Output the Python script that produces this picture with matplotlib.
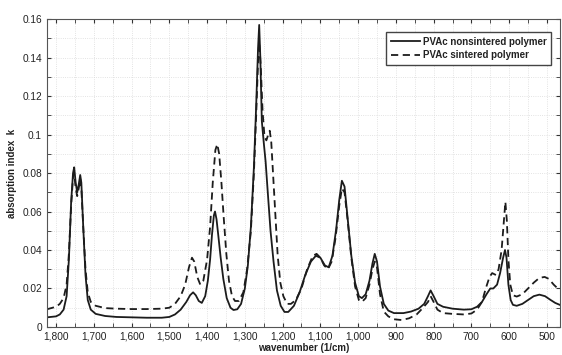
import matplotlib
matplotlib.use("Agg")
import matplotlib.pyplot as plt
from matplotlib.ticker import MultipleLocator, FuncFormatter

plt.rcParams['font.family'] = ['Liberation Sans', 'DejaVu Sans']

# nonsintered (solid) polymer
wn_solid = [1824, 1800, 1790, 1780, 1772, 1766, 1760, 1755, 1752, 1748, 1744, 1740, 1736, 1733, 1728,
            1722, 1716, 1708, 1695, 1670, 1640, 1600, 1560, 1520, 1500, 1485, 1470, 1455, 1445, 1437,
            1430, 1422, 1414, 1405, 1398, 1392, 1387, 1382, 1379, 1375, 1370, 1364, 1357, 1348, 1338, 1330,
            1320, 1310, 1300, 1292, 1284, 1276, 1270, 1265, 1262, 1259, 1255, 1250, 1245, 1240, 1232, 1224,
            1215, 1205, 1195, 1185, 1170, 1155, 1140, 1125, 1112, 1100, 1088, 1078, 1068, 1058, 1050,
            1043, 1036, 1028, 1018, 1008, 998, 990, 980, 970, 962, 956, 950, 942, 932, 920,
            905, 880, 860, 840, 825, 815, 808, 800, 790, 775, 750, 720, 700, 685, 672,
            660, 650, 642, 632, 624, 616, 611, 607, 602, 596, 590, 580, 565, 550, 535,
            520, 505, 490, 478, 466]
k_solid = [0.0050, 0.0055, 0.0065, 0.0090, 0.016, 0.035, 0.065, 0.080, 0.083, 0.075, 0.070, 0.074, 0.079, 0.075, 0.052,
           0.027, 0.014, 0.009, 0.0068, 0.0057, 0.0052, 0.0050, 0.0048, 0.0048, 0.0052, 0.0065, 0.0090, 0.013, 0.0165, 0.0180,
           0.0165, 0.0135, 0.0125, 0.016, 0.024, 0.035, 0.048, 0.058, 0.060, 0.056, 0.047, 0.036, 0.025, 0.015, 0.0100, 0.0088,
           0.0092, 0.012, 0.020, 0.032, 0.052, 0.083, 0.115, 0.145, 0.157, 0.140, 0.107, 0.096, 0.086, 0.072, 0.050, 0.034,
           0.019, 0.011, 0.0078, 0.0078, 0.011, 0.018, 0.027, 0.034, 0.037, 0.036, 0.032, 0.031, 0.037, 0.051, 0.066,
           0.076, 0.073, 0.057, 0.037, 0.023, 0.016, 0.015, 0.017, 0.024, 0.033, 0.038, 0.034, 0.021, 0.012, 0.0085,
           0.0072, 0.0072, 0.0080, 0.0095, 0.012, 0.016, 0.019, 0.016, 0.012, 0.0105, 0.0095, 0.0090, 0.0092, 0.0105, 0.013,
           0.017, 0.020, 0.020, 0.022, 0.028, 0.036, 0.040, 0.036, 0.022, 0.014, 0.0115, 0.011, 0.012, 0.014, 0.016,
           0.0168, 0.0160, 0.0140, 0.0125, 0.0115]

# sintered (dashed) polymer
wn_dash = [1824, 1800, 1790, 1780, 1772, 1766, 1760, 1755, 1752, 1748, 1744, 1740, 1736, 1733, 1728,
           1722, 1716, 1708, 1695, 1670, 1640, 1600, 1560, 1520, 1500, 1485, 1470, 1458, 1448, 1440,
           1434, 1426, 1418, 1410, 1400, 1392, 1385, 1378, 1373, 1368, 1362, 1356, 1349, 1342, 1334,
           1326, 1316, 1304, 1294, 1284, 1276, 1270, 1265, 1262, 1258, 1253, 1248, 1243, 1238, 1234,
           1230, 1226, 1220, 1213, 1206, 1198, 1188, 1178, 1165, 1150, 1135, 1120, 1110, 1100, 1090,
           1080, 1070, 1060, 1050, 1043, 1036, 1028, 1018, 1008, 998, 990, 980, 970, 962, 956,
           950, 942, 932, 920, 905, 885, 865, 845, 828, 815, 808, 800, 790, 775, 750,
           720, 700, 685, 672, 662, 652, 645, 635, 628, 620, 614, 610, 606, 602, 597,
           590, 580, 565, 550, 535, 520, 506, 495, 482, 466]
k_dash = [0.0092, 0.0105, 0.012, 0.015, 0.022, 0.038, 0.063, 0.078, 0.080, 0.072, 0.068, 0.072, 0.077, 0.072, 0.052,
          0.030, 0.018, 0.013, 0.011, 0.0098, 0.0095, 0.0093, 0.0093, 0.0095, 0.010, 0.012, 0.016, 0.022, 0.031, 0.036,
          0.034, 0.026, 0.022, 0.024, 0.035, 0.052, 0.075, 0.092, 0.095, 0.090, 0.075, 0.057, 0.038, 0.024, 0.016,
          0.0135, 0.0135, 0.018, 0.030, 0.050, 0.080, 0.110, 0.138, 0.148, 0.136, 0.112, 0.099, 0.097, 0.100, 0.102,
          0.096, 0.082, 0.060, 0.037, 0.023, 0.016, 0.012, 0.012, 0.014, 0.020, 0.030, 0.037, 0.038, 0.036, 0.032,
          0.030, 0.034, 0.046, 0.063, 0.072, 0.070, 0.056, 0.036, 0.021, 0.014, 0.013, 0.015, 0.022, 0.030, 0.034,
          0.031, 0.017, 0.008, 0.0055, 0.0040, 0.0036, 0.0045, 0.0065, 0.010, 0.013, 0.016, 0.013, 0.009, 0.0072, 0.0068,
          0.0065, 0.0070, 0.0090, 0.013, 0.020, 0.026, 0.028, 0.027, 0.030, 0.040, 0.055, 0.065, 0.055, 0.035, 0.022,
          0.0165, 0.0158, 0.017, 0.020, 0.023, 0.0255, 0.026, 0.025, 0.022, 0.019]

labels = ["PVAc nonsintered polymer", "PVAc sintered polymer"]

fig = plt.figure(figsize=(5.62, 3.55), dpi=100)
ax = fig.add_axes([0.0836, 0.079, 0.9124, 0.867])
line_col = '#1c1c1c'
ax.plot(wn_solid, k_solid, '-', color=line_col, lw=1.3, label=labels[0])
ax.plot(wn_dash, k_dash, '--', color=line_col, lw=1.3, dashes=(4, 2.5), label=labels[1])

ax.set_xlim(1824, 466)
ax.set_ylim(0, 0.16)
ax.xaxis.set_major_locator(MultipleLocator(100))
ax.xaxis.set_minor_locator(MultipleLocator(50))
ax.yaxis.set_major_locator(MultipleLocator(0.02))
ax.yaxis.set_minor_locator(MultipleLocator(0.01))
ax.xaxis.set_major_formatter(FuncFormatter(lambda v, p: f"{int(round(v)):,}"))
ax.yaxis.set_major_formatter(FuncFormatter(lambda v, p: f"{v:g}"))
ax.tick_params(which='both', direction='in', top=True, right=True, labelsize=7.3, colors='#333333',
               labelcolor='#222222')
ax.tick_params(which='major', length=3)
ax.tick_params(which='minor', length=3)
ax.grid(which='both', linestyle=':', color='#dadada', lw=0.6)
for s in ax.spines.values():
    s.set_color('#555555')
    s.set_linewidth(0.8)

ax.set_xlabel("wavenumber (1/cm)", fontsize=7, color='#222222', labelpad=1, fontweight='bold')
ax.set_ylabel("absorption index  k", fontsize=7, color='#222222', labelpad=4, fontweight='bold')

leg = ax.legend(loc='upper right', fontsize=7, frameon=True, fancybox=False, framealpha=1,
                edgecolor='#444444', handlelength=3.0, handletextpad=0.3, borderpad=0.5,
                labelspacing=0.35, bbox_to_anchor=(0.993, 0.975))
for t in leg.get_texts():
    t.set_fontweight('bold')
    t.set_color('#222222')

fig.savefig("out.png", dpi=100)
